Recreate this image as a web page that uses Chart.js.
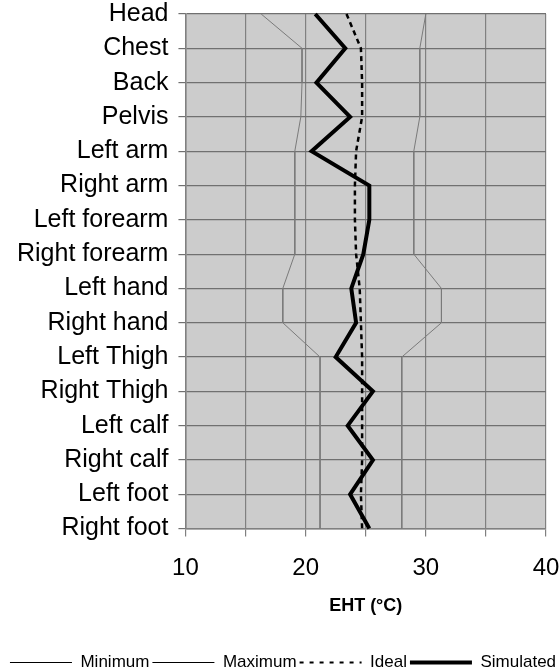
<!DOCTYPE html>
<html>
<head>
<meta charset="utf-8">
<script src="https://cdn.jsdelivr.net/npm/chart.js@4/dist/chart.umd.min.js"></script>
<style>
  html, body { margin: 0; padding: 0; background: #ffffff; }
  #wrap { width: 560px; height: 670px; }
</style>
</head>
<body>
<div id="wrap"><canvas id="eht" width="560" height="670"></canvas></div>
<script>
// Body segments, top to bottom
const segments = ['Head', 'Chest', 'Back', 'Pelvis', 'Left arm', 'Right arm',
  'Left forearm', 'Right forearm', 'Left hand', 'Right hand', 'Left Thigh',
  'Right Thigh', 'Left calf', 'Right calf', 'Left foot', 'Right foot'];

// Equivalent homogeneous temperature per segment (°C)
const minimum   = [16.3, 19.7, 19.7, 19.6, 19.1, 19.1, 19.1, 19.1, 18.1, 18.1, 21.2, 21.2, 21.2, 21.2, 21.2, 21.2];
const maximum   = [30.0, 29.5, 29.5, 29.5, 29.0, 29.0, 29.0, 29.0, 31.3, 31.3, 28.0, 28.0, 28.0, 28.0, 28.0, 28.0];
const ideal     = [23.4, 24.6, 24.7, 24.7, 24.2, 24.1, 24.1, 24.2, 24.5, 24.6, 24.7, 24.7, 24.7, 24.7, 24.6, 24.7];
const simulated = [20.8, 23.3, 20.9, 23.7, 20.5, 25.3, 25.3, 24.8, 23.8, 24.2, 22.5, 25.6, 23.5, 25.6, 23.7, 25.3];

// Axis ticks: grid every 5 °C, labels on the tens
const xTickLabels = [10, 20, 30, 40];
const seriesNames = ['Minimum', 'Maximum', 'Ideal', 'Simulated'];

const FONT = "'Liberation Sans', Arial, Helvetica, sans-serif";

// Gray plotting area
const plotBackground = {
  id: 'plotBackground',
  beforeDraw(chart) {
    const a = chart.chartArea;
    const ctx = chart.ctx;
    ctx.save();
    ctx.fillStyle = '#cccccc';
    ctx.fillRect(a.left, a.top, a.right - a.left, a.bottom - a.top);
    ctx.restore();
  }
};

// Legend samples: plain line strokes carrying each series' dash and width
const legendStyles = [
  { color: '#000000', width: 1, dash: [] },
  { color: '#000000', width: 1, dash: [] },
  { color: '#000000', width: 2, dash: [4, 6] },
  { color: '#000000', width: 4, dash: [] }
];

new Chart(document.getElementById('eht'), {
  type: 'line',
  data: {
    labels: segments,
    datasets: [
      { label: seriesNames[0], data: minimum, borderColor: '#7a7a7a', borderWidth: 1, order: 3 },
      { label: seriesNames[1], data: maximum, borderColor: '#7a7a7a', borderWidth: 1, order: 2 },
      { label: seriesNames[2], data: ideal, borderColor: '#000000', borderWidth: 2.5, borderDash: [5, 4], order: 1 },
      { label: seriesNames[3], data: simulated, borderColor: '#000000', borderWidth: 4, order: 0 }
    ]
  },
  options: {
    indexAxis: 'y',
    responsive: false,
    animation: false,
    devicePixelRatio: 1,
    layout: { padding: { top: 14, right: 0, left: 6, bottom: -11 } },
    elements: {
      point: { radius: 0, hoverRadius: 0 },
      line: { tension: 0, fill: false, borderCapStyle: 'butt', borderJoinStyle: 'miter' }
    },
    scales: {
      x: {
        type: 'linear',
        min: 10, max: 40,
        // fixed side margins instead of label-driven ones
        afterFit(scale) { scale.paddingLeft = 0; scale.paddingRight = 14; },
        ticks: {
          stepSize: 5,
          autoSkip: false,
          maxRotation: 0,
          color: '#000000',
          padding: 17,
          font: { family: FONT, size: 24 },
          callback: (v) => (xTickLabels.includes(v) ? String(v) : '')
        },
        grid: { color: '#808080', lineWidth: 1.2, tickLength: 8, tickColor: '#808080' },
        border: { color: '#808080', width: 1.5 },
        title: {
          display: true,
          text: 'EHT (°C)',
          color: '#000000',
          font: { family: FONT, size: 18, weight: 'bold' },
          padding: { top: -4, bottom: 34 }
        }
      },
      y: {
        type: 'category',
        offset: false,
        afterFit(scale) { scale.paddingTop = 0; scale.paddingBottom = 0; scale.width += 1; },
        ticks: {
          color: '#000000',
          padding: 10,
          autoSkip: false,
          font: { family: FONT, size: 25 }
        },
        grid: { color: '#707070', lineWidth: 1.2, tickLength: 7, tickColor: '#707070' },
        border: { color: '#808080', width: 1.5 }
      }
    },
    plugins: {
      tooltip: { enabled: false },
      legend: {
        position: 'bottom',
        labels: {
          color: '#000000',
          font: { family: FONT, size: 17 },
          usePointStyle: true,
          pointStyle: 'line',
          pointStyleWidth: 62,
          padding: 3,
          generateLabels(chart) {
            const items = Chart.defaults.plugins.legend.labels.generateLabels(chart);
            items.sort((a, b) => a.datasetIndex - b.datasetIndex);
            items.forEach((it) => {
              const s = legendStyles[it.datasetIndex];
              it.strokeStyle = s.color;
              it.fillStyle = s.color;
              it.lineWidth = s.width;
              it.lineDash = s.dash;
              it.pointStyle = 'line';
            });
            return items;
          }
        }
      }
    }
  },
  plugins: [plotBackground]
});
</script>
</body>
</html>
